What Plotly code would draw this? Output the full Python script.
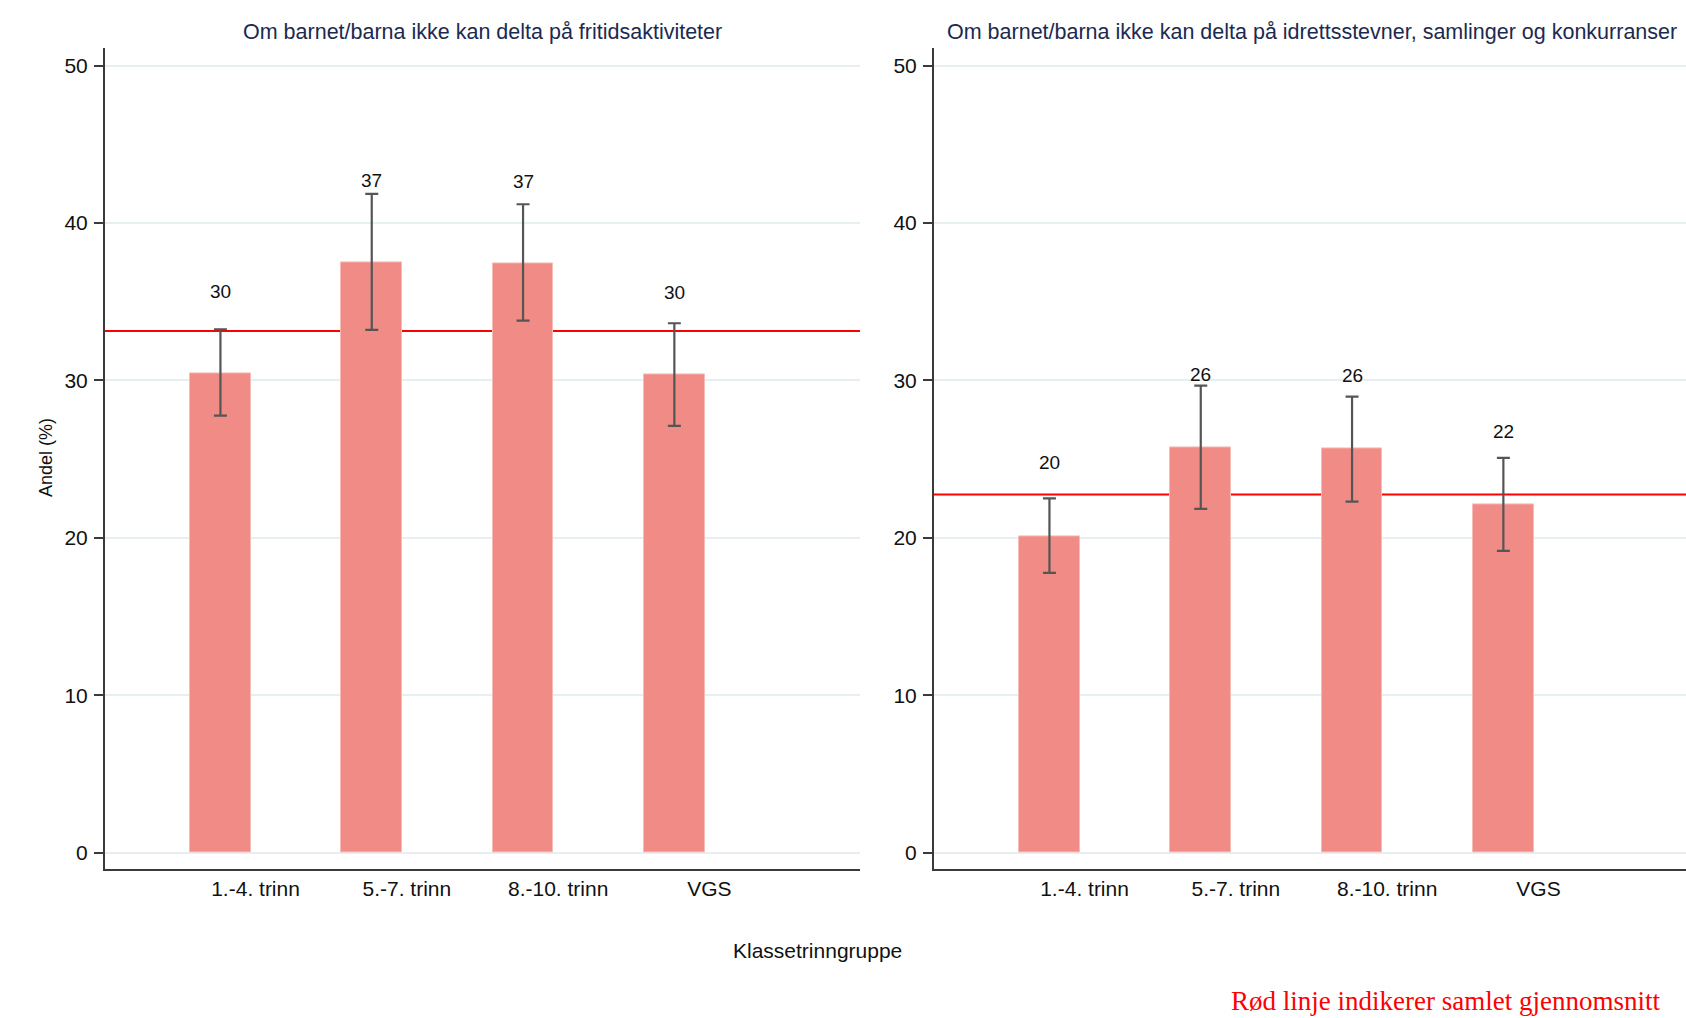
import plotly.graph_objects as go

W, H = 1686, 1018

# Grade groups (x categories)
groups = ["1.-4. trinn", "5.-7. trinn", "8.-10. trinn", "VGS"]

# Panel 1: cannot take part in leisure activities (%)
leisure_share = [30.45, 37.48, 37.45, 30.37]
leisure_upper = [33.25, 41.85, 41.19, 33.63]
leisure_lower = [27.76, 33.21, 33.80, 27.11]
leisure_mean = 33.14

# Panel 2: cannot take part in sports events, gatherings and competitions (%)
sports_share = [20.12, 25.75, 25.65, 22.11]
sports_upper = [22.51, 29.67, 28.97, 25.08]
sports_lower = [17.77, 21.84, 22.30, 19.17]
sports_mean = 22.75

titles = [
    "Om barnet/barna ikke kan delta på fritidsaktiviteter",
    "Om barnet/barna ikke kan delta på idrettsstevner, samlinger og konkurranser",
]
y_ticks = [0, 10, 20, 30, 40, 50]

FONT = "Liberation Sans, Arial, sans-serif"
BAR = "#F08B85"
ERR = "#555555"
AXIS = "#3a3a3a"
GRID = "#E8EFF3"


def px_x(p):
    return p / W


def px_y(p):
    return 1 - p / H


positions = list(range(len(groups)))
tick_pos = [p + 0.232 for p in positions]

panels = [
    dict(share=leisure_share, upper=leisure_upper, lower=leisure_lower,
         mean=leisure_mean, dom=(105, 860), rng=(-0.763, 4.227), shift=82),
    dict(share=sports_share, upper=sports_upper, lower=sports_lower,
         mean=sports_mean, dom=(934, 1686), rng=(-0.763, 4.207), shift=73),
]

fig = go.Figure()
annotations = []
shapes = []

for i, pnl in enumerate(panels):
    xa = "x" if i == 0 else "x2"
    ya = "y" if i == 0 else "y2"
    plus = [u - v for u, v in zip(pnl["upper"], pnl["share"])]
    minus = [v - l for v, l in zip(pnl["share"], pnl["lower"])]
    fig.add_trace(go.Bar(
        x=positions, y=pnl["share"], width=0.4,
        marker=dict(color=BAR, line=dict(color="#F6BDB8", width=1)),
        error_y=dict(type="data", symmetric=False, array=plus, arrayminus=minus,
                     color=ERR, thickness=2.2, width=6.5),
        xaxis=xa, yaxis=ya, showlegend=False, hoverinfo="skip",
    ))
    # value labels above each bar
    for p, v in zip(positions, pnl["share"]):
        annotations.append(dict(
            x=p, y=v, xref=xa, yref=ya, text=str(round(v)), showarrow=False,
            yshift=pnl["shift"], yanchor="middle",
            font=dict(family=FONT, size=19, color="#111111"),
        ))
    # overall mean line (drawn beneath the bars)
    shapes.append(dict(
        type="line", xref=f"{xa} domain", yref=ya, x0=0, x1=1,
        y0=pnl["mean"], y1=pnl["mean"], layer="below",
        line=dict(color="#FF0000", width=2),
    ))
    # panel title
    annotations.append(dict(
        x=(px_x(pnl["dom"][0]) + px_x(pnl["dom"][0] + 755)) / 2, y=px_y(32),
        xref="paper", yref="paper", text=titles[i], showarrow=False,
        xanchor="center", yanchor="middle",
        font=dict(family=FONT, size=21.5, color="#1C2A50"),
    ))

axis_common_x = dict(
    tickmode="array", tickvals=tick_pos, ticktext=groups, ticks="",
    showgrid=False, zeroline=False, showline=True, linecolor=AXIS, linewidth=2,
    tickfont=dict(family=FONT, size=21, color="#111111"), fixedrange=True,
)
axis_common_y = dict(
    range=[-1.04, 51.09], domain=[px_y(869), px_y(48.4)],
    tickmode="array", tickvals=y_ticks, ticks="outside", ticklen=9,
    tickwidth=2, tickcolor=AXIS, showgrid=True, gridcolor=GRID, gridwidth=2,
    zeroline=False, showline=True, linecolor=AXIS, linewidth=2,
    ticklabelstandoff=2,
    tickfont=dict(family=FONT, size=21, color="#111111"), fixedrange=True,
)

fig.update_layout(
    width=W, height=H, margin=dict(l=0, r=0, t=0, b=0),
    paper_bgcolor="white", plot_bgcolor="white",
    xaxis=dict(axis_common_x, domain=[px_x(105), px_x(860)],
               range=list(panels[0]["rng"]), anchor="y"),
    yaxis=dict(axis_common_y, anchor="x"),
    xaxis2=dict(axis_common_x, domain=[px_x(934), 1.0],
                range=list(panels[1]["rng"]), anchor="y2"),
    yaxis2=dict(axis_common_y, anchor="x2"),
    bargap=0, shapes=shapes,
)

annotations += [
    dict(x=px_x(34), y=px_y(458), xref="paper", yref="paper",
         text="Andel (%)", textangle=-90, showarrow=False,
         font=dict(family=FONT, size=18, color="#111111")),
    dict(x=px_x(817), y=px_y(950), xref="paper", yref="paper",
         text="Klassetrinngruppe", showarrow=False,
         xanchor="center", yanchor="middle",
         font=dict(family=FONT, size=21, color="#111111")),
    dict(x=px_x(1662), y=px_y(1001), xref="paper", yref="paper",
         text="Rød linje indikerer samlet gjennomsnitt", showarrow=False,
         xanchor="right", yanchor="middle",
         font=dict(family="Liberation Serif, Times New Roman, serif",
                   size=27, color="#FF0000")),
]
fig.update_layout(annotations=annotations)

fig.write_html("out.html", config={"displayModeBar": False})
